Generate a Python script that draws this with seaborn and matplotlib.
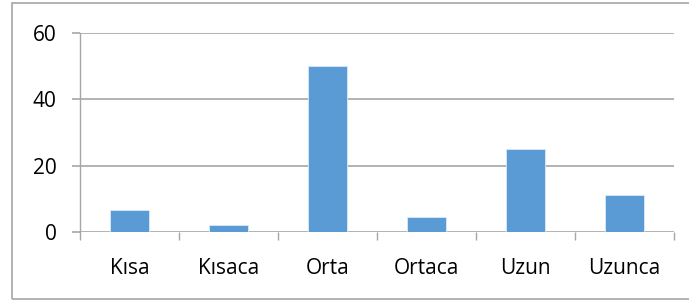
import matplotlib
matplotlib.use('Agg')
import matplotlib.pyplot as plt
import seaborn as sns
import pandas as pd
from matplotlib.patches import Rectangle

# dane
categories = ['Kısa', 'Kısaca', 'Orta', 'Ortaca', 'Uzun', 'Uzunca']
values = [6.7, 2.1, 50, 4.4, 25.1, 11.2]
y_ticks = [0, 20, 40, 60]

df = pd.DataFrame({'cat': categories, 'val': values})

sns.set_style('white')
plt.rcParams['font.family'] = ['Open Sans', 'DejaVu Sans']

grid_col = '#A6A6A6'
bar_col = '#5B9BD5'

fig = plt.figure(figsize=(6.89, 3.05), dpi=100)
ax = fig.add_axes([80 / 689, 1 - 232 / 305, (674 - 80) / 689, (232 - 33) / 305])

sns.barplot(data=df, x='cat', y='val', color=bar_col, width=0.4,
            edgecolor='#DCE9F6', linewidth=0.6, saturation=1, ax=ax, zorder=3)

ax.set_xlim(-0.5, len(categories) - 0.5)
ax.set_ylim(0, 60)
ax.set_yticks(y_ticks)
ax.set_xlabel('')
ax.set_ylabel('')

ax.yaxis.grid(True, color=grid_col, linewidth=1.2, zorder=0)
for s in ['top', 'right', 'bottom']:
    ax.spines[s].set_visible(False)
ax.spines['left'].set_color(grid_col)
ax.spines['left'].set_linewidth(1.0)

# znaczniki osi X na granicach kategorii
ax.set_xticks([i - 0.5 for i in range(len(categories) + 1)], minor=True)
ax.tick_params(axis='x', which='minor', bottom=True, length=6, width=1.0,
               color=grid_col, direction='out')
ax.tick_params(axis='x', which='major', length=0, pad=19, labelsize=15, labelcolor='black')
ax.tick_params(axis='y', which='major', left=True, length=6, width=1.2, color=grid_col,
               pad=11, labelsize=15, labelcolor='black')
ax.set_axisbelow(True)

# ramka wykresu (prawa krawędź poza obrazem)
fig.patches.append(Rectangle((12 / 689, 1 - 299 / 305), 1.2, 296 / 305,
                             transform=fig.transFigure, fill=False,
                             edgecolor='#A6A6A6', linewidth=1.2, clip_on=False))

fig.savefig('out.png', dpi=100)
